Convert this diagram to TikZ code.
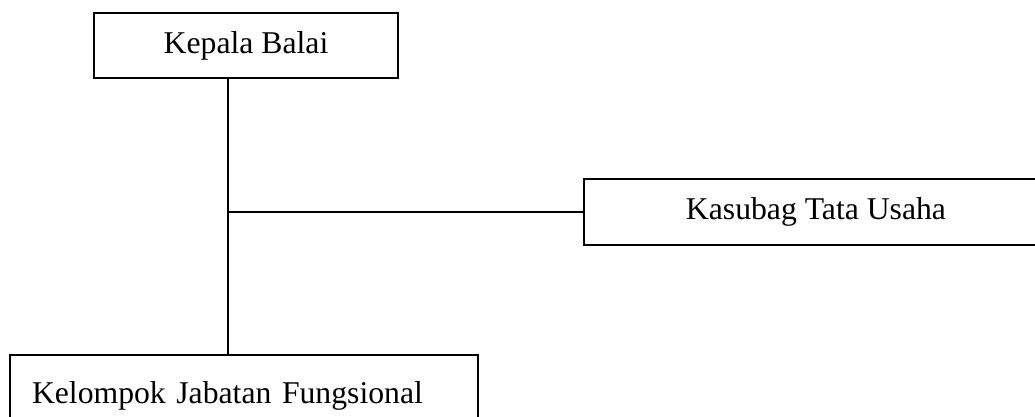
\documentclass[tikz,border=0pt]{standalone}
\usepackage{fontspec}
\setmainfont{Liberation Serif}
\begin{document}
\begin{tikzpicture}[x=1pt,y=-1pt,
  orgbox/.style={draw=black,line width=1.6pt,rectangle,inner sep=0pt,
    font=\fontsize{31.7}{38}\selectfont},
  link/.style={draw=black,line width=1.6pt}]
\useasboundingbox (0,0) rectangle (1035,416);
\clip (0,0) rectangle (1035,416);
\node[orgbox,minimum width=304pt,minimum height=65pt] (kb) at (246,45.5) {Kepala Balai};
\node[orgbox,minimum width=464pt,minimum height=66pt] (ks) at (816,212) {Kasubag Tata Usaha};
\node[orgbox,minimum width=468pt,minimum height=82pt,text width=424pt,align=left,inner xsep=22pt] (kj) at (244,396) {Kelompok Jabatan Fungsional};
\coordinate (j) at (228,212);
\draw[link] (kb.south -| j) -- (kj.north -| j);
\draw[link] (j) -- (ks.west);
\end{tikzpicture}
\end{document}
